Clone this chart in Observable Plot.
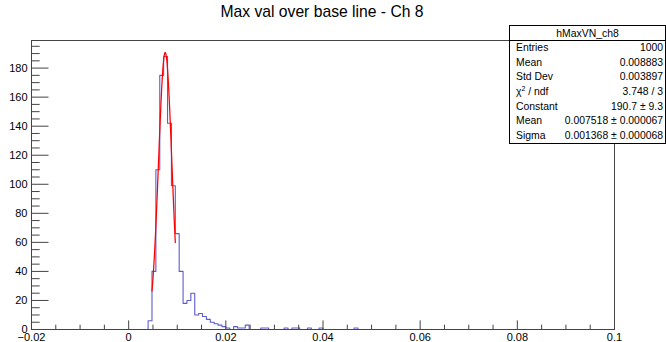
<!DOCTYPE html>
<html>
<head>
<meta charset="utf-8">
<script src="https://cdn.jsdelivr.net/npm/d3@7"></script>
<script src="https://cdn.jsdelivr.net/npm/@observablehq/plot@0.6"></script>
<style>
  body { margin: 0; background: #fff; }
  #wrap { position: relative; width: 666px; height: 342px; font-family: "Liberation Sans", Arial, Helvetica, sans-serif; color: #000; }
  #title { position: absolute; left: 0; top: 3px; width: 644px; text-align: center; font-size: 15.7px; }
  #stats { position: absolute; left: 509px; top: 25px; width: 157px; height: 119px; box-sizing: border-box;
           border: 1px solid #000; background: #fff; font-size: 10.4px; }
  #stats .hdr { height: 15px; line-height: 15px; text-align: center; border-bottom: 1px solid #000; box-sizing: border-box; }
  #stats .row { height: 14.7px; line-height: 14.7px; display: flex; justify-content: space-between; padding: 0 2px 0 6px; }
  #stats sup { font-size: 7px; line-height: 0; }
  #chart { position: absolute; left: 0; top: 0; }
</style>
</head>
<body>
<div id="wrap">
  <div id="chart"></div>
  <div id="title"></div>
  <div id="stats"></div>
</div>
<script>
// ---- histogram definition ----
const histXMin = -0.02;
const histXMax = 0.1;
const histNBins = 150;

// non-empty bins: lower edge and count
const binLowEdge = [0.004, 0.0048, 0.0056, 0.0064, 0.0072, 0.008, 0.0088, 0.0096, 0.0104, 0.0112,
                    0.012, 0.0128, 0.0136, 0.0144, 0.0152, 0.016, 0.0168, 0.0176, 0.0184, 0.0192,
                    0.02, 0.0216, 0.0224, 0.0232, 0.024, 0.0272, 0.028, 0.032, 0.0336, 0.0344,
                    0.0368, 0.0392, 0.0464];
const binCount   = [6, 40, 110, 175, 188, 142, 99, 66, 40, 18,
                    20, 25, 10, 11, 9, 7, 5, 4, 3, 2,
                    1, 2, 1, 1, 3, 1, 1, 1, 1, 1,
                    1, 1, 1];

// gaussian fit (from the stats box) and its fit range
const fitConstant = 190.7;
const fitMean = 0.007518;
const fitSigma = 0.001368;
const fitRange = [0.0048, 0.0096];
const fitNPoints = 100;

// axes
const yMax = 199;
const xTickValues = [-0.02, 0, 0.02, 0.04, 0.06, 0.08, 0.1];
const xTickLabels = ["\u22120.02", "0", "0.02", "0.04", "0.06", "0.08", "0.1"];
const xMinorTicks = [-0.015, -0.01, -0.005, 0.005, 0.01, 0.015, 0.025, 0.03, 0.035, 0.045, 0.05, 0.055,
                     0.065, 0.07, 0.075, 0.085, 0.09, 0.095];
const yTickValues = [0, 20, 40, 60, 80, 100, 120, 140, 160, 180];
const yTickLabels = ["0", "20", "40", "60", "80", "100", "120", "140", "160", "180"];
const yMinorTicks = [5, 10, 15, 25, 30, 35, 45, 50, 55, 65, 70, 75, 85, 90, 95, 105, 110, 115,
                     125, 130, 135, 145, 150, 155, 165, 170, 175, 185, 190, 195];

// texts
const titleText = "Max val over base line - Ch 8";
const statsName = "hMaxVN_ch8";
const statsLabels = ["Entries", "Mean", "Std Dev", "\u03c7<sup>2</sup> / ndf", "Constant", "Mean", "Sigma"];
const statsValues = ["1000", "0.008883", "0.003897", "3.748 / 3", "190.7 \u00b1 9.3",
                     "0.007518 \u00b1 0.000067", "0.001368 \u00b1 0.000068"];

// ---- build tables ----
const binWidth = (histXMax - histXMin) / histNBins;
const full = new Array(histNBins).fill(0);
binLowEdge.forEach((e, i) => { full[Math.round((e - histXMin) / binWidth)] = binCount[i]; });
const stepData = full.map((c, i) => ({x: histXMin + i * binWidth, y: c}));
stepData.push({x: histXMax, y: full[histNBins - 1]});
stepData.unshift({x: histXMin, y: 0});

const fitData = d3.range(fitNPoints + 1).map(i => {
  const x = fitRange[0] + (fitRange[1] - fitRange[0]) * i / fitNPoints;
  return {x, y: fitConstant * Math.exp(-0.5 * ((x - fitMean) / fitSigma) ** 2)};
});

const W = 666, H = 342, mL = 31, mR = 52, mT = 40, mB = 13;
const innerW = W - mL - mR, innerH = H - mT - mB;
const axisColor = "#444";

const chart = Plot.plot({
  width: W, height: H,
  marginLeft: mL, marginRight: mR, marginTop: mT, marginBottom: mB,
  x: {domain: [histXMin, histXMax], label: null},
  y: {domain: [0, yMax], label: null},
  style: {fontFamily: '"Liberation Sans", Arial, Helvetica, sans-serif', fontSize: "11px", color: "#000", background: "transparent"},
  marks: [
    Plot.line(stepData, {x: "x", y: "y", curve: "step-after", stroke: "#5c5cd0", strokeWidth: 1.1}),
    Plot.line(fitData, {x: "x", y: "y", stroke: "#ff0000", strokeWidth: 1.25}),
    Plot.ruleX(xMinorTicks, {x: d => d, stroke: axisColor, insetTop: innerH - 4.3}),
    Plot.ruleX(xTickValues, {x: d => d, stroke: axisColor, insetTop: innerH - 8.6}),
    Plot.ruleY(yMinorTicks, {y: d => d, stroke: axisColor, insetRight: innerW - 8.7}),
    Plot.ruleY(yTickValues, {y: d => d, stroke: axisColor, insetRight: innerW - 17.5}),
    Plot.axisX(xTickValues, {tickSize: 0, tickPadding: 4, label: null,
      tickFormat: d => xTickLabels[xTickValues.indexOf(d)]}),
    Plot.axisY(yTickValues, {tickSize: 0, tickPadding: 4, label: null,
      tickFormat: d => yTickLabels[yTickValues.indexOf(d)]}),
    Plot.frame({stroke: axisColor})
  ]
});
document.getElementById("chart").appendChild(chart);

document.getElementById("title").textContent = titleText;
const stats = document.getElementById("stats");
let html = `<div class="hdr">${statsName}</div>`;
statsLabels.forEach((l, i) => { html += `<div class="row"><span>${l}</span><span>${statsValues[i]}</span></div>`; });
stats.innerHTML = html;
</script>
</body>
</html>
